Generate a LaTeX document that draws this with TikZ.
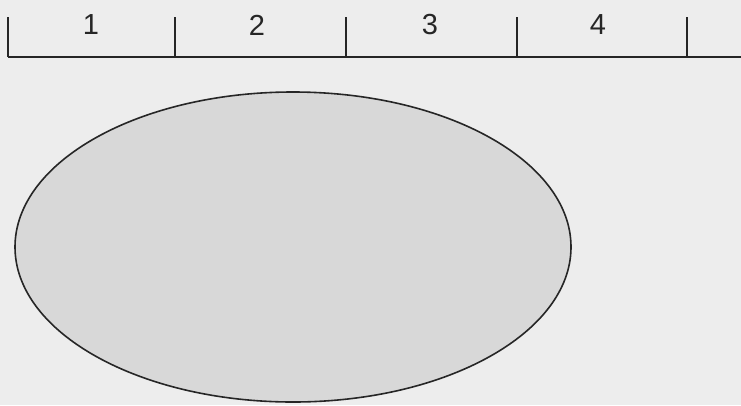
\documentclass[tikz,border=0pt]{standalone}
\usepackage{fontspec}
\setmainfont{Liberation Sans}
\usepackage{tikz}
\usetikzlibrary{shapes.geometric, positioning}

\definecolor{paper}{HTML}{EDEDED}
\definecolor{blobgray}{HTML}{D8D8D8}
\definecolor{ink}{HTML}{262626}

\tikzset{
    rulerline/.style={draw=ink, line width=2.4pt},
    numlabel/.style={font=\fontsize{29}{34}\selectfont, text=ink, inner sep=0pt},
    blobshape/.style={ellipse, draw=ink, line width=1.6pt, fill=blobgray,
        minimum width=556pt, minimum height=310pt, inner sep=0pt}
}

\begin{document}
\begin{tikzpicture}[x=1pt, y=-1pt]
    % Background
    \fill[paper] (0,0) rectangle (741,405);
    \useasboundingbox (0,0) rectangle (741,405);

    % Ruler
    \coordinate (t0) at (8,57);
    \coordinate (t1) at (175,57);
    \coordinate (t2) at (346,57);
    \coordinate (t3) at (517,57);
    \coordinate (t4) at (687,57);
    \coordinate (tend) at (741,57);
    \draw[rulerline] (t0) -- (tend);
    \foreach \t in {t0,t1,t2,t3,t4}
        \draw[rulerline] (\t) -- ++(0,-40);

    % Segment numbers
    \node[numlabel] (n1) at (91,25) {1};
    \node[numlabel] (n2) at (257,25) {2};
    \node[numlabel] (n3) at (430,25) {3};
    \node[numlabel] (n4) at (598,25) {4};

    % Ellipse
    \node[blobshape] (blob) at (293,247) {};
\end{tikzpicture}
\end{document}
